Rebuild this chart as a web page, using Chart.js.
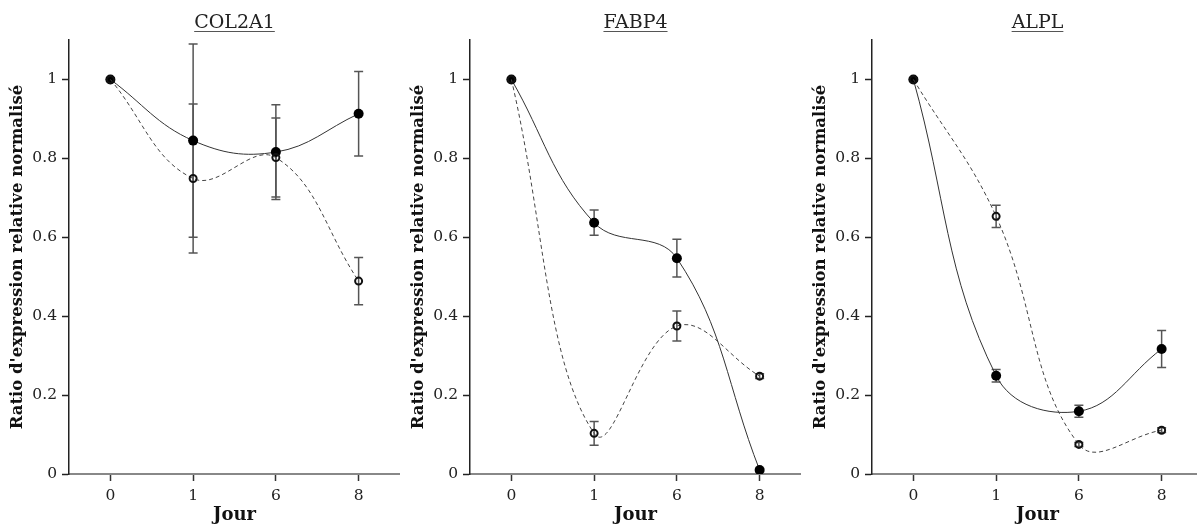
<!DOCTYPE html>
<html>
<head>
<meta charset="utf-8">
<script src="https://cdn.jsdelivr.net/npm/chart.js@4"></script>
<style>
  body { margin: 0; background: #fff; overflow: hidden; }
  .panel { position: absolute; top: 0; }
</style>
</head>
<body>
<canvas id="c1" class="panel" width="400" height="524" style="left:0px"></canvas>
<canvas id="c2" class="panel" width="400" height="524" style="left:401px"></canvas>
<canvas id="c3" class="panel" width="400" height="524" style="left:803px"></canvas>
<script>
// x categories (jours) and y ticks
const days = ["0", "1", "6", "8"];
const yTicks = [0, 0.2, 0.4, 0.6, 0.8, 1];
const yTickLabels = ["0", "0.2", "0.4", "0.6", "0.8", "1"];

// COL2A1
const col2a1Filled = [1.0, 0.845, 0.816, 0.913];
const col2a1FilledErr = [0, 0.245, 0.12, 0.107];
const col2a1Open = [1.0, 0.749, 0.802, 0.489];
const col2a1OpenErr = [0, 0.189, 0.10, 0.06];

// FABP4
const fabp4Filled = [1.0, 0.637, 0.547, 0.010];
const fabp4FilledErr = [0, 0.032, 0.048, 0.004];
const fabp4Open = [1.0, 0.103, 0.375, 0.248];
const fabp4OpenErr = [0, 0.03, 0.038, 0.006];

// ALPL
const alplFilled = [1.0, 0.249, 0.159, 0.317];
const alplFilledErr = [0, 0.016, 0.015, 0.047];
const alplOpen = [1.0, 0.653, 0.075, 0.111];
const alplOpenErr = [0, 0.028, 0.005, 0.006];

const serif = "'DejaVu Serif', serif";

const errorBars = {
  id: "errorBars",
  beforeDatasetsDraw(chart) {
    const ctx = chart.ctx;
    const y = chart.scales.y;
    ctx.save();
    ctx.strokeStyle = "#555";
    ctx.lineWidth = 1.5;
    chart.data.datasets.forEach((ds, i) => {
      const meta = chart.getDatasetMeta(i);
      meta.data.forEach((pt, j) => {
        const e = ds.errors[j];
        if (!e) return;
        const top = y.getPixelForValue(ds.data[j] + e);
        const bot = y.getPixelForValue(ds.data[j] - e);
        ctx.beginPath();
        ctx.moveTo(pt.x, top);
        ctx.lineTo(pt.x, bot);
        ctx.moveTo(pt.x - 4.5, top);
        ctx.lineTo(pt.x + 4.5, top);
        ctx.moveTo(pt.x - 4.5, bot);
        ctx.lineTo(pt.x + 4.5, bot);
        ctx.stroke();
      });
    });
    ctx.restore();
  },
};

const underlinedTitle = {
  id: "underlinedTitle",
  afterDraw(chart, args, opts) {
    const ctx = chart.ctx;
    const area = chart.chartArea;
    const cx = (area.left + area.right) / 2;
    ctx.save();
    ctx.font = "19px " + serif;
    ctx.fillStyle = "#222";
    ctx.textAlign = "center";
    ctx.textBaseline = "alphabetic";
    ctx.fillText(opts.text, cx, 28);
    const w = ctx.measureText(opts.text).width;
    ctx.strokeStyle = "#555";
    ctx.lineWidth = 1;
    ctx.beginPath();
    ctx.moveTo(cx - w / 2, 31.5);
    ctx.lineTo(cx + w / 2, 31.5);
    ctx.stroke();
    ctx.restore();
  },
};

function makePanel(id, title, filled, filledErr, open, openErr) {
  new Chart(document.getElementById(id), {
    type: "line",
    data: {
      labels: days,
      datasets: [
        {
          data: open,
          errors: openErr,
          borderColor: "#444",
          borderWidth: 1,
          borderDash: [4, 3],
          tension: 0.4,
          pointRadius: 3.5,
          pointBorderWidth: 2,
          pointBorderColor: "#111",
          pointBackgroundColor: "rgba(0,0,0,0)",
        },
        {
          data: filled,
          errors: filledErr,
          borderColor: "#333",
          borderWidth: 1,
          tension: 0.4,
          pointRadius: 5,
          pointBorderWidth: 0,
          pointBackgroundColor: "#000",
        },
      ],
    },
    options: {
      responsive: false,
      animation: false,
      layout: { autoPadding: false, padding: { top: 40 } },
      plugins: {
        legend: { display: false },
        tooltip: { enabled: false },
        underlinedTitle: { text: title },
      },
      scales: {
        x: {
          offset: true,
          afterFit: (s) => { s.height = 50; },
          grid: { drawOnChartArea: false, tickLength: 7, tickColor: "#333", tickWidth: 1.5 },
          border: { color: "#888", width: 2 },
          ticks: { color: "#222", padding: 6, font: { family: serif, size: 15.5 } },
          title: {
            display: true,
            text: "Jour",
            color: "#111",
            padding: { top: 0, bottom: -2 },
            font: { family: serif, size: 18, weight: "bold" },
          },
        },
        y: {
          min: 0,
          max: 1.1,
          afterFit: (s) => { s.width = 69; },
          afterBuildTicks: (s) => { s.ticks = yTicks.map((v) => ({ value: v })); },
          grid: { drawOnChartArea: false, tickLength: 7, tickColor: "#222", tickWidth: 1.5 },
          border: { color: "#222", width: 1.5 },
          ticks: {
            color: "#222",
            padding: 5,
            font: { family: serif, size: 15.5 },
            callback: (v, i) => yTickLabels[i],
          },
          title: {
            display: true,
            text: "Ratio d'expression relative normalisé",
            color: "#111",
            padding: { top: 8, bottom: 0 },
            font: { family: serif, size: 16.5, weight: "bold" },
          },
        },
      },
    },
    plugins: [errorBars, underlinedTitle],
  });
}

makePanel("c1", "COL2A1", col2a1Filled, col2a1FilledErr, col2a1Open, col2a1OpenErr);
makePanel("c2", "FABP4", fabp4Filled, fabp4FilledErr, fabp4Open, fabp4OpenErr);
makePanel("c3", "ALPL", alplFilled, alplFilledErr, alplOpen, alplOpenErr);
</script>
</body>
</html>
